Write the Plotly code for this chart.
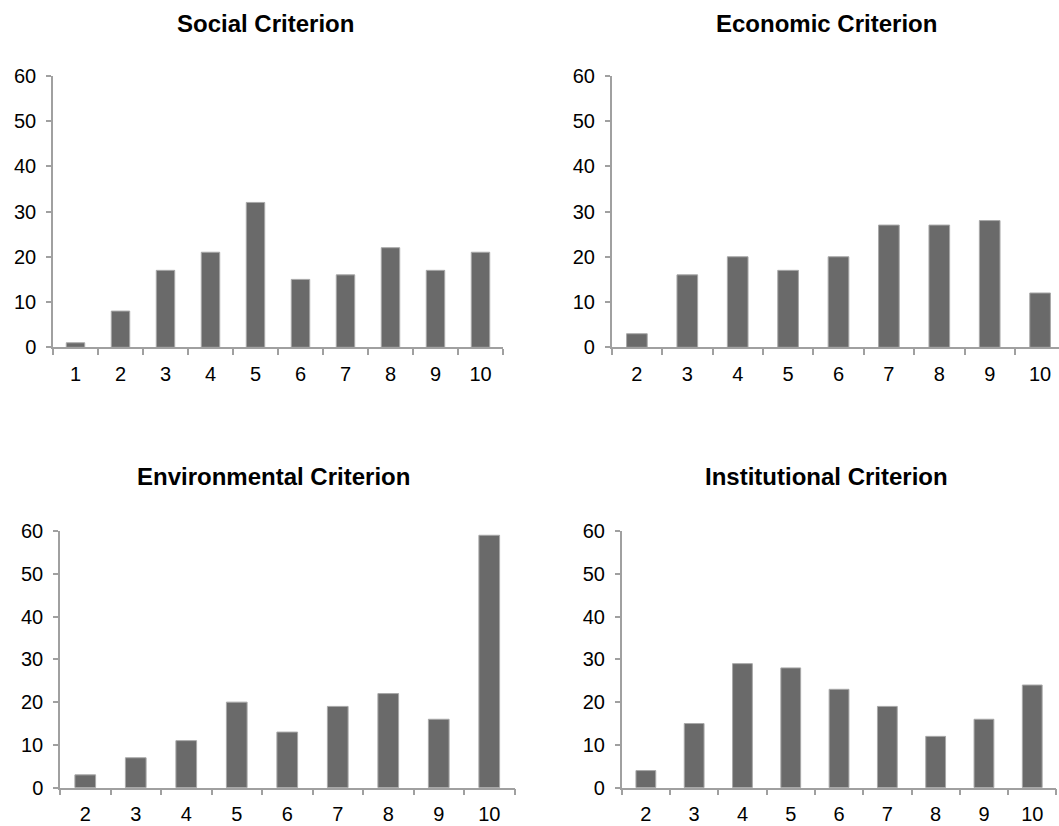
import plotly.graph_objects as go

# Data
social_cats = ["1", "2", "3", "4", "5", "6", "7", "8", "9", "10"]
social_vals = [1, 8, 17, 21, 32, 15, 16, 22, 17, 21]

econ_cats = ["2", "3", "4", "5", "6", "7", "8", "9", "10"]
econ_vals = [3, 16, 20, 17, 20, 27, 27, 28, 12]

env_cats = ["2", "3", "4", "5", "6", "7", "8", "9", "10"]
env_vals = [3, 7, 11, 20, 13, 19, 22, 16, 59]

inst_cats = ["2", "3", "4", "5", "6", "7", "8", "9", "10"]
inst_vals = [4, 15, 29, 28, 23, 19, 12, 16, 24]

titles = ["Social Criterion", "Economic Criterion", "Environmental Criterion", "Institutional Criterion"]

W, H = 1059, 826
BAR = "#6a6a6a"
BARLINE = "#a8a8a8"
AXIS = "#a0a0a0"
FONT = "Liberation Sans, Arial, sans-serif"


def px(x):
    return x / W


def py(y):
    return (H - y) / H


fig = go.Figure()

# right edge of top-right panel is cut at the window edge
tr_x0, tr_step = 611.7, 50.4
tr_x1 = W
tr_range = [-0.5, -0.5 + (tr_x1 - tr_x0) / tr_step]

panels = [
    (social_cats, social_vals, "x", "y", (53, 503), (75.7, 347.3), None),
    (econ_cats, econ_vals, "x2", "y2", (tr_x0, tr_x1), (75.7, 347.3), tr_range),
    (env_cats, env_vals, "x3", "y3", (60, 514.5), (531, 787.7), None),
    (inst_cats, inst_vals, "x4", "y4", (621.7, 1056.4), (531, 787.7), None),
]

layout = dict(
    width=W, height=H,
    autosize=False,
    margin=dict(l=0, r=0, t=0, b=0, pad=0),
    paper_bgcolor="white", plot_bgcolor="white",
    showlegend=False,
    font=dict(family=FONT, color="#000000", size=20),
)

for i, (cats, vals, xa, ya, (x0, x1), (ytop, ybot), xr) in enumerate(panels):
    fig.add_trace(go.Bar(
        x=cats, y=vals, xaxis=xa, yaxis=ya,
        marker=dict(color=BAR, line=dict(color=BARLINE, width=1)),
        width=0.41,
        hoverinfo="x+y",
    ))
    xname = "xaxis" if i == 0 else f"xaxis{i+1}"
    yname = "yaxis" if i == 0 else f"yaxis{i+1}"
    xaxis = dict(
        domain=[px(x0), min(1.0, px(x1))],
        anchor=ya,
        type="category",
        automargin=False,
        showline=True, linecolor=AXIS, linewidth=1.5,
        showgrid=False, zeroline=False,
        ticks="outside", tickson="boundaries", ticklen=6, tickcolor=AXIS, tickwidth=1.5,
        tickfont=dict(size=20, family=FONT, color="#000000"),
        ticklabelstandoff=8,
        fixedrange=True,
    )
    xaxis["range"] = xr if xr is not None else [-0.5, len(cats) - 0.5]
    layout[xname] = xaxis
    layout[yname] = dict(
        domain=[py(ybot), py(ytop)],
        anchor=xa,
        automargin=False,
        range=[0, 60], dtick=10, tick0=0,
        showline=True, linecolor=AXIS, linewidth=1.5,
        showgrid=False, zeroline=False,
        ticks="outside", ticklen=5, tickcolor=AXIS, tickwidth=1.5,
        tickfont=dict(size=20, family=FONT, color="#000000"),
        ticklabelstandoff=6,
        fixedrange=True,
    )

title_pos = [(265, 23.3), (826, 23.3), (273, 477), (826.7, 477)]
annotations = []
for t, (cx, cy) in zip(titles, title_pos):
    annotations.append(dict(
        text=f"<b>{t}</b>", x=px(cx), y=py(cy), xref="paper", yref="paper",
        xanchor="center", yanchor="middle", showarrow=False,
        font=dict(size=24, family=FONT, color="#000000"),
    ))
layout["annotations"] = annotations

fig.update_layout(**layout)
fig.write_html(
    "out.html",
    config={"displayModeBar": False},
    post_script="document.body.style.margin='0';document.body.style.overflow='hidden';",
)
